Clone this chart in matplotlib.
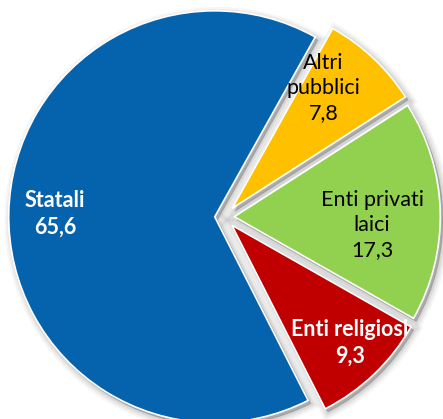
import numpy as np
import matplotlib.pyplot as plt

# data (percent)
labels = ['Statali', 'Enti religiosi', 'Enti privati\nlaici', 'Altri\npubblici']
values = [65.6, 9.3, 17.3, 7.8]
value_text = ['65,6', '9,3', '17,3', '7,8']

colors = ['#0563AE', '#C00000', '#92D050', '#FFC000']
explode = [0.045, 0.055, 0.05, 0.058]
text_colors = ['white', 'white', 'black', 'black']
text_weights = ['bold', 'bold', 'normal', 'normal']
# label placement tweaks (extra angle in deg, radius fraction)
label_dtheta = [0, 1.3, -4.7, 5.5]
label_r = [0.82, 0.865, 0.72, 0.79]

start = 60.8

fig = plt.figure(figsize=(4.43, 4.19), dpi=100)
ax = fig.add_axes([0, 0, 1, 1])

# soft drop shadow under the wedges
for lw, a in [(10, 0.05), (7, 0.07), (4, 0.10), (1, 0.18)]:
    ax.pie(values, explode=explode, startangle=start, counterclock=True,
           center=(0.013, -0.015), colors=['#555555'] * 4,
           wedgeprops=dict(edgecolor='#555555', linewidth=lw, alpha=a))

wedges, _ = ax.pie(values, explode=explode, startangle=start, counterclock=True,
                   colors=colors, wedgeprops=dict(edgecolor='white', linewidth=1.2))

for i, w in enumerate(wedges):
    mid = np.deg2rad((w.theta1 + w.theta2) / 2 + label_dtheta[i])
    r = label_r[i]
    ax.text(r * np.cos(mid), r * np.sin(mid),
            labels[i] + '\n' + value_text[i],
            ha='center', va='center', fontsize=15.5, linespacing=1.32,
            color=text_colors[i], fontweight=text_weights[i],
            family=['Lato', 'DejaVu Sans'])

R = 206
ax.set_aspect('auto')
ax.set_xlim(-224 / R, (443 - 224) / R)
ax.set_ylim(-(419 - 217) / R, 217 / R)
ax.axis('off')

fig.savefig('out.png', dpi=100)
